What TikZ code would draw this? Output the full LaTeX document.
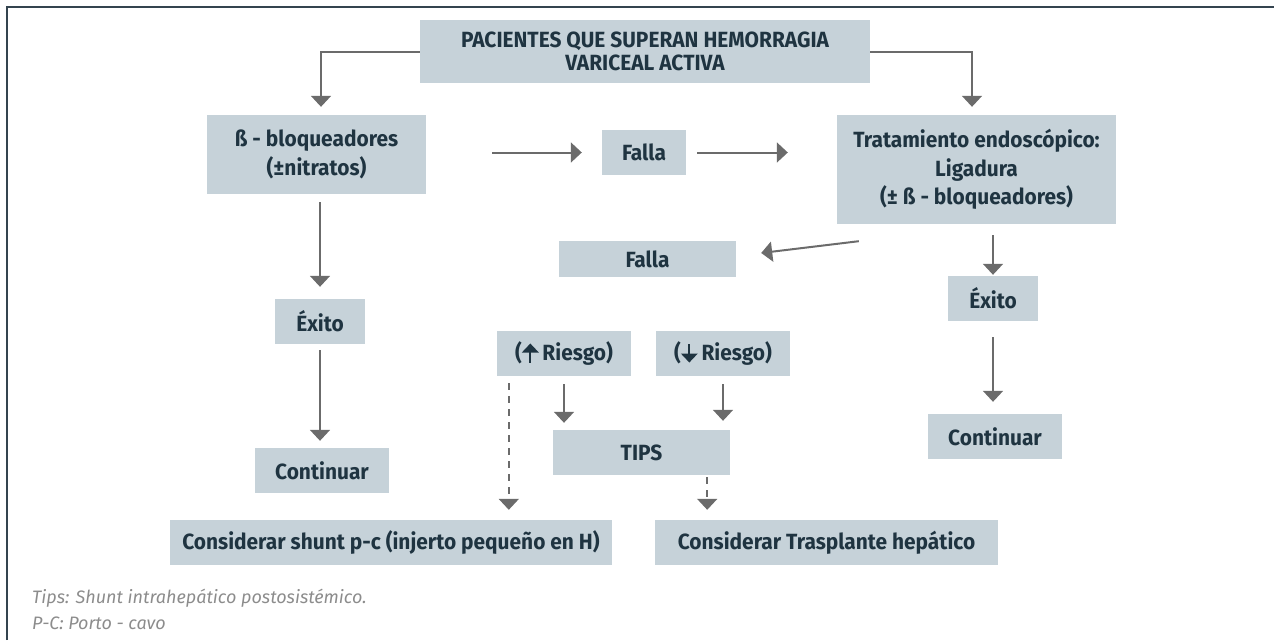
\documentclass[tikz,border=0pt]{standalone}
\usepackage{fontspec}
\setmainfont{Fira Sans}
\newfontfamily\boxfont[FakeStretch=0.95]{Fira Sans}
\newfontfamily\notefont{Fira Sans}
\usetikzlibrary{arrows.meta}
\definecolor{boxfill}{HTML}{C6D2D9}
\definecolor{txtc}{HTML}{1F3441}
\definecolor{arrowc}{HTML}{6B6B6B}
\definecolor{framec}{HTML}{34444F}
\definecolor{notec}{HTML}{8C8C8C}
\newcommand\uparrowglyph{\tikz[baseline=0pt,x=1pt,y=1pt]{\fill[txtc] (-0.9,-2) rectangle (0.9,9); \fill[txtc] (-8.5,8) -- (8.5,8) -- (0,17) -- cycle;}}
\newcommand\downarrowglyph{\tikz[baseline=0pt,x=1pt,y=1pt]{\fill[txtc] (-0.9,6) rectangle (0.9,17); \fill[txtc] (-8.5,7) -- (8.5,7) -- (0,-2) -- cycle;}}
\tikzset{
  box/.style={fill=boxfill, inner sep=0pt, text=txtc, align=center,
    font=\boxfont\bfseries\fontsize{22}{29}\selectfont},
  arr/.style={draw=arrowc, line width=2pt, -{Triangle[width=20pt,length=11pt]}},
  dasharr/.style={arr, dash pattern=on 7pt off 6pt},
  notetext/.style={anchor=base west, inner sep=0pt, text=notec,
    font=\notefont\itshape\fontsize{18}{21}\selectfont}
}
\begin{document}
\begin{tikzpicture}[x=1pt,y=-1pt]
\useasboundingbox (0,0) rectangle (1274,640);
\draw[framec, line width=2pt] (7,640) -- (7,7) -- (1274,7);

\node[box, minimum width=450pt, minimum height=63pt, font=\boxfont\bfseries\fontsize{22}{23}\selectfont] (title) at (645,51.5) {PACIENTES QUE SUPERAN HEMORRAGIA\\VARICEAL ACTIVA};
\node[box, minimum width=219pt, minimum height=79pt] (beta) at (316.5,154.5) {ß - bloqueadores\\(±nitratos)};
\node[box, minimum width=84pt, minimum height=45pt] (falla1) at (644,152.5) {Falla};
\node[box, minimum width=279pt, minimum height=109pt, font=\boxfont\bfseries\fontsize{22}{28.5}\selectfont] (trat) at (976.5,169.5) {Tratamiento endoscópico:\\Ligadura\\(± ß - bloqueadores)};
\node[box, minimum width=177pt, minimum height=36pt] (falla2) at (647.5,259) {\raisebox{-4pt}{Falla}};
\node[box, minimum width=90pt, minimum height=45pt] (exitoL) at (320,321.5) {Éxito};
\node[box, minimum width=90pt, minimum height=45pt] (exitoR) at (993,298.5) {Éxito};
\node[box, minimum width=134pt, minimum height=45pt] (riesgoUp) at (564,353.5) {(\uparrowglyph\,Riesgo)};
\node[box, minimum width=134pt, minimum height=45pt] (riesgoDn) at (723,353.5) {(\downarrowglyph\,Riesgo)};
\node[box, minimum width=177pt, minimum height=45pt] (tips) at (641.5,452.5) {TIPS};
\node[box, minimum width=134pt, minimum height=45pt] (contL) at (322,470.5) {Continuar};
\node[box, minimum width=134pt, minimum height=45pt] (contR) at (995,436.5) {Continuar};
\node[box, minimum width=442pt, minimum height=45pt] (shunt) at (391,542.5) {Considerar shunt p-c (injerto pequeño en H)};
\node[box, minimum width=343pt, minimum height=45pt] (trasp) at (826.5,542.5) {Considerar Trasplante hepático};

\node[notetext] (note1) at (32,603) {Tips: Shunt intrahepático postosistémico.};
\node[notetext] (note2) at (32,629) {P-C: Porto - cavo};

\draw[arr, shorten >=8pt] (title.west) -| ([xshift=4.5pt]beta.north);
\draw[arr, shorten >=8pt] (title.east) -| ([xshift=-4.5pt]trat.north);
\draw[arr, shorten <=66pt, shorten >=20pt] (beta.east |- falla1.west) -- (falla1.west);
\draw[arr, shorten <=11pt, shorten >=49pt] (falla1.east) -- (falla1.east -| trat.west);
\draw[arr] ([xshift=22pt,yshift=-17pt]trat.south west) -- ([xshift=25pt,yshift=6pt]falla2.east);
\draw[arr, shorten <=11pt, shorten >=1pt] (exitoR.north |- trat.south) -- (exitoR.north);
\draw[arr, shorten <=16pt, shorten >=12pt] (exitoR.south) -- (exitoR.south |- contR.north);
\draw[arr, shorten <=8pt, shorten >=12pt] (exitoL.north |- beta.south) -- (exitoL.north);
\draw[arr, shorten <=6pt, shorten >=7pt] (exitoL.south) -- (exitoL.south |- contL.north);
\draw[arr, shorten <=8pt, shorten >=7pt] (riesgoUp.south) -- (riesgoUp.south |- tips.north);
\draw[arr, shorten <=8pt, shorten >=9pt] (riesgoDn.south) -- (riesgoDn.south |- tips.north);
\draw[dasharr, shorten <=7pt, shorten >=10pt] ([xshift=12pt]riesgoUp.south west) -- ([xshift=12pt]riesgoUp.south west |- shunt.north);
\draw[dasharr, shorten <=2pt, shorten >=10pt] ([xshift=-23pt]tips.south east) -- ([xshift=-23pt]tips.south east |- trasp.north);
\end{tikzpicture}
\end{document}
